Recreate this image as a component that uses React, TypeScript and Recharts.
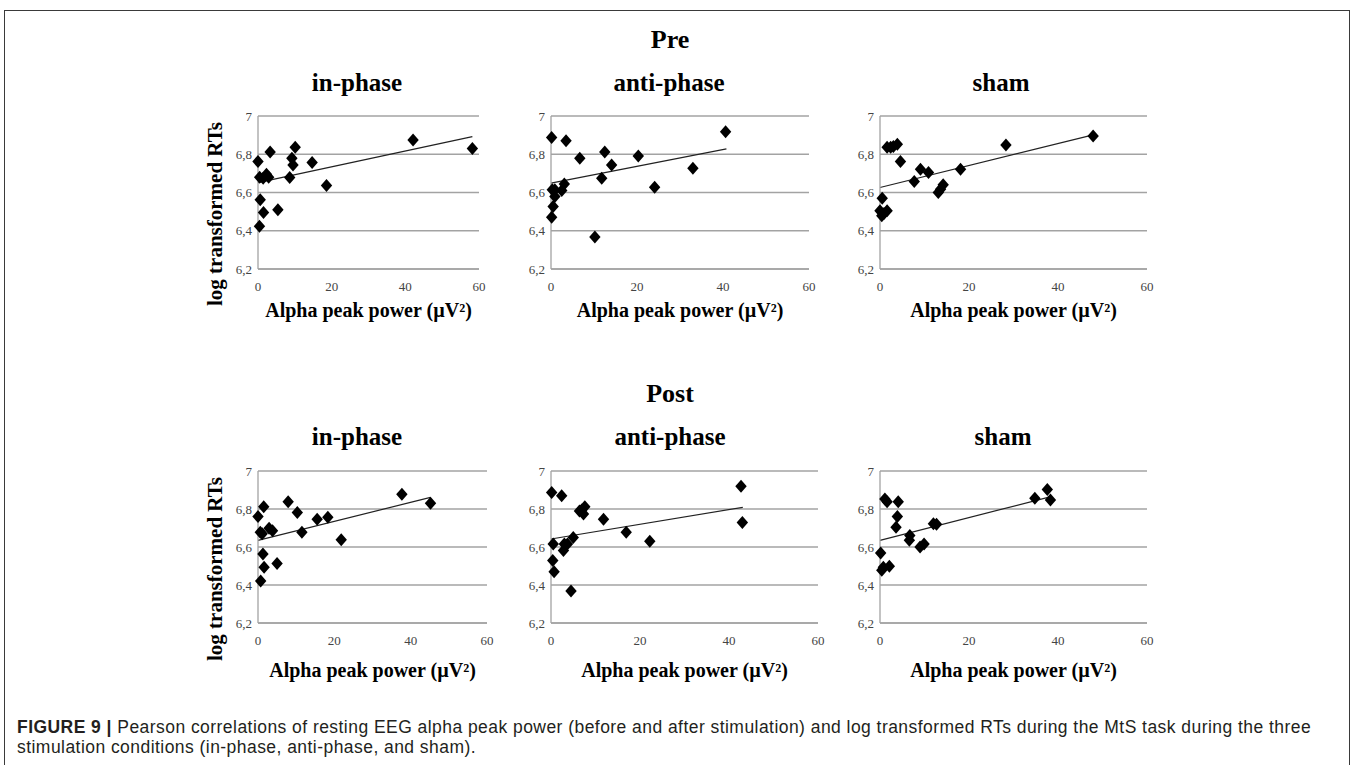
import React from 'react';
import { ScatterChart, Scatter, XAxis, YAxis, CartesianGrid, ReferenceLine } from 'recharts';

// ---- data (x: alpha peak power µV², y: log transformed RT) ----
const preInPhase = [
  { x: 0, y: 6.762 }, { x: 0.45, y: 6.68 }, { x: 1.4, y: 6.675 }, { x: 2.3, y: 6.696 },
  { x: 2.9, y: 6.68 }, { x: 3.3, y: 6.812 }, { x: 0.6, y: 6.562 }, { x: 1.5, y: 6.496 },
  { x: 0.4, y: 6.423 }, { x: 5.4, y: 6.51 }, { x: 8.6, y: 6.678 }, { x: 9.2, y: 6.779 },
  { x: 9.5, y: 6.744 }, { x: 10.1, y: 6.836 }, { x: 14.7, y: 6.757 }, { x: 18.6, y: 6.637 },
  { x: 42.1, y: 6.875 }, { x: 58.2, y: 6.83 },
];
const preAntiPhase = [
  { x: 0.15, y: 6.887 }, { x: 3.5, y: 6.87 }, { x: 6.7, y: 6.779 }, { x: 12.5, y: 6.812 },
  { x: 14.1, y: 6.744 }, { x: 20.3, y: 6.791 }, { x: 11.8, y: 6.675 }, { x: 24.1, y: 6.628 },
  { x: 33.0, y: 6.727 }, { x: 40.6, y: 6.918 }, { x: 0.3, y: 6.614 }, { x: 0.9, y: 6.614 },
  { x: 0.9, y: 6.579 }, { x: 2.5, y: 6.61 }, { x: 3.1, y: 6.645 }, { x: 0.5, y: 6.527 },
  { x: 0.15, y: 6.47 }, { x: 10.2, y: 6.367 },
];
const preSham = [
  { x: 0, y: 6.504 }, { x: 0.4, y: 6.478 }, { x: 0.5, y: 6.57 }, { x: 1.6, y: 6.504 },
  { x: 0.9, y: 6.49 }, { x: 1.6, y: 6.837 }, { x: 2.4, y: 6.837 }, { x: 3.0, y: 6.84 },
  { x: 3.9, y: 6.852 }, { x: 4.6, y: 6.762 }, { x: 7.7, y: 6.657 }, { x: 9.1, y: 6.722 },
  { x: 10.9, y: 6.704 }, { x: 13.1, y: 6.6 }, { x: 13.6, y: 6.617 }, { x: 14.2, y: 6.64 },
  { x: 18.1, y: 6.722 }, { x: 28.3, y: 6.849 }, { x: 47.9, y: 6.896 },
];
const postInPhase = [
  { x: 0, y: 6.76 }, { x: 0.6, y: 6.678 }, { x: 1.1, y: 6.67 }, { x: 1.5, y: 6.812 },
  { x: 1.3, y: 6.563 }, { x: 1.6, y: 6.494 }, { x: 0.7, y: 6.421 }, { x: 2.9, y: 6.699 },
  { x: 3.8, y: 6.685 }, { x: 5.0, y: 6.513 }, { x: 7.9, y: 6.838 }, { x: 10.3, y: 6.781 },
  { x: 11.5, y: 6.678 }, { x: 15.5, y: 6.746 }, { x: 18.3, y: 6.757 }, { x: 21.8, y: 6.638 },
  { x: 37.7, y: 6.878 }, { x: 45.2, y: 6.83 },
];
const postAntiPhase = [
  { x: 0.15, y: 6.887 }, { x: 2.4, y: 6.87 }, { x: 0.5, y: 6.616 }, { x: 0.4, y: 6.529 },
  { x: 0.7, y: 6.47 }, { x: 2.8, y: 6.581 }, { x: 3.0, y: 6.616 }, { x: 3.7, y: 6.616 },
  { x: 5.0, y: 6.65 }, { x: 4.5, y: 6.369 }, { x: 6.4, y: 6.79 }, { x: 6.9, y: 6.795 },
  { x: 7.3, y: 6.774 }, { x: 7.6, y: 6.812 }, { x: 11.8, y: 6.746 }, { x: 16.9, y: 6.677 },
  { x: 22.2, y: 6.63 }, { x: 42.7, y: 6.92 }, { x: 43.0, y: 6.729 },
];
const postSham = [
  { x: 0.15, y: 6.569 }, { x: 0.4, y: 6.477 }, { x: 0.75, y: 6.494 }, { x: 2.1, y: 6.499 },
  { x: 1.1, y: 6.852 }, { x: 1.6, y: 6.838 }, { x: 4.1, y: 6.838 }, { x: 3.9, y: 6.76 },
  { x: 3.6, y: 6.704 }, { x: 6.7, y: 6.661 }, { x: 6.6, y: 6.635 }, { x: 9.0, y: 6.6 },
  { x: 9.9, y: 6.616 }, { x: 12.0, y: 6.722 }, { x: 12.7, y: 6.72 }, { x: 34.8, y: 6.856 },
  { x: 37.6, y: 6.903 }, { x: 38.3, y: 6.847 },
];

// linear trend line end points
const preInPhaseTrend = [{ x: 0, y: 6.652 }, { x: 58.2, y: 6.892 }];
const preAntiPhaseTrend = [{ x: 0, y: 6.649 }, { x: 40.8, y: 6.828 }];
const preShamTrend = [{ x: 0, y: 6.626 }, { x: 47.9, y: 6.901 }];
const postInPhaseTrend = [{ x: 0, y: 6.635 }, { x: 45.2, y: 6.861 }];
const postAntiPhaseTrend = [{ x: 0, y: 6.642 }, { x: 43.1, y: 6.809 }];
const postShamTrend = [{ x: 0, y: 6.635 }, { x: 38.2, y: 6.864 }];

const xTicks = [0, 20, 40, 60];
const yTicks = [6.2, 6.4, 6.6, 6.8, 7];
const yTickLabels = ['6,2', '6,4', '6,6', '6,8', '7'];

const rowTitles = ['Pre', 'Post'];
const conditionTitles = ['in-phase', 'anti-phase', 'sham'];
const xAxisTitle = 'Alpha peak power (µV²)';
const yAxisTitle = 'log transformed RTs';

const SERIF = '"Liberation Serif", "Times New Roman", serif';
const SANS = '"Liberation Sans", Arial, sans-serif';
const GRID = '#a3a3a3';
const TICK = '#444';

const Diamond = (p: any) => {
  const { cx, cy } = p;
  if (cx == null || cy == null) return null;
  return (
    <path
      d={`M${cx},${cy - 6.5}L${cx + 5.7},${cy}L${cx},${cy + 6.5}L${cx - 5.7},${cy}Z`}
      fill="#000"
    />
  );
};

const YAW = 70;
const MT = 10;
const MR = 12;
const XAH = 40;

function Panel(props: {
  L: number; R: number; T: number; B: number; data: any[]; trend: any[];
  title: string; titleX: number; titleY: number; xLabelY: number; showY: boolean; yLabelY: number;
}) {
  const { L, R, T, B, data, trend, title, titleX, titleY, xLabelY, showY, yLabelY } = props;
  const w = R - L + YAW + MR;
  const h = B - T + MT + XAH;
  return (
    <>
      <div
        style={{
          position: 'absolute', left: titleX, top: titleY, transform: 'translate(-50%, -50%)',
          fontFamily: SERIF, fontWeight: 'bold', fontSize: 25, whiteSpace: 'nowrap', color: '#000',
        }}
      >
        {title}
      </div>
      <div style={{ position: 'absolute', left: L - YAW, top: T - MT }}>
        <ScatterChart width={w} height={h} margin={{ top: MT, right: MR, bottom: 0, left: 0 }}>
          <CartesianGrid horizontal vertical={false} stroke={GRID} strokeWidth={1.3} />
          <XAxis
            type="number" dataKey="x" domain={[0, 60]} ticks={xTicks} interval={0}
            tickLine={false} tickSize={0} tickMargin={13} height={XAH}
            axisLine={{ stroke: GRID, strokeWidth: 1.3 }}
            tick={{ fontFamily: SERIF, fontSize: 13, fill: TICK }}
          />
          <YAxis
            type="number" dataKey="y" domain={[6.2, 7]} ticks={yTicks} interval={0}
            tickLine={false} tickSize={0} tickMargin={6} width={YAW}
            axisLine={{ stroke: GRID, strokeWidth: 1.3 }}
            tickFormatter={(v: number) => yTickLabels[yTicks.indexOf(v)] ?? String(v)}
            tick={{ fontFamily: SERIF, fontSize: 13, fill: TICK }}
          />
          <ReferenceLine segment={trend} stroke="#222" strokeWidth={1.2} ifOverflow="visible" />
          <Scatter data={data} shape={Diamond} fill="#000" isAnimationActive={false} />
        </ScatterChart>
      </div>
      <div
        style={{
          position: 'absolute', left: (L + R) / 2, top: xLabelY, transform: 'translate(-50%, -50%)',
          fontFamily: SERIF, fontWeight: 'bold', fontSize: 20, whiteSpace: 'nowrap', color: '#000',
        }}
      >
        {xAxisTitle}
      </div>
      {showY && (
        <div
          style={{
            position: 'absolute', left: 215, top: yLabelY,
            transform: 'translate(-50%, -50%) rotate(-90deg)',
            fontFamily: SERIF, fontWeight: 'bold', fontSize: 21, whiteSpace: 'nowrap', color: '#000',
          }}
        >
          {yAxisTitle}
        </div>
      )}
    </>
  );
}

export default function App() {
  const rows = [
    {
      T: 116, B: 269, rowTitleY: 40, titleY: 83, xLabelY: 310,
      panels: [
        { L: 258, R: 479, data: preInPhase, trend: preInPhaseTrend, titleX: 357 },
        { L: 551, R: 809, data: preAntiPhase, trend: preAntiPhaseTrend, titleX: 669 },
        { L: 880, R: 1147, data: preSham, trend: preShamTrend, titleX: 1001 },
      ],
    },
    {
      T: 471, B: 623, rowTitleY: 394, titleY: 437, xLabelY: 670,
      panels: [
        { L: 258, R: 487, data: postInPhase, trend: postInPhaseTrend, titleX: 357 },
        { L: 551, R: 818, data: postAntiPhase, trend: postAntiPhaseTrend, titleX: 670 },
        { L: 880, R: 1147, data: postSham, trend: postShamTrend, titleX: 1003 },
      ],
    },
  ];
  return (
    <div
      style={{
        position: 'absolute', left: 0, top: 0, width: 1357, height: 765,
        background: '#fff', overflow: 'hidden',
      }}
    >
      <div
        style={{
          position: 'absolute', left: 4, top: 10, width: 1346, height: 780,
          border: '1px solid #3a3a3a', boxSizing: 'border-box',
        }}
      />
      {rows.map((row, ri) => (
        <React.Fragment key={ri}>
          <div
            style={{
              position: 'absolute', left: 670, top: row.rowTitleY, transform: 'translate(-50%, -50%)',
              fontFamily: SERIF, fontWeight: 'bold', fontSize: 26, color: '#000',
            }}
          >
            {rowTitles[ri]}
          </div>
          {row.panels.map((p, pi) => (
            <Panel
              key={pi}
              L={p.L} R={p.R} T={row.T} B={row.B} data={p.data} trend={p.trend}
              title={conditionTitles[pi]} titleX={p.titleX} titleY={row.titleY}
              xLabelY={row.xLabelY} showY={pi === 0} yLabelY={row.T + 98}
            />
          ))}
        </React.Fragment>
      ))}
      <div
        style={{
          position: 'absolute', left: 17, top: 717, fontFamily: SANS, fontSize: 17.5,
          letterSpacing: '0.45px', lineHeight: '20px', color: '#231f20', whiteSpace: 'nowrap',
        }}
      >
        <div>
          <b>FIGURE 9 |</b> Pearson correlations of resting EEG alpha peak power (before and after
          stimulation) and log transformed RTs during the MtS task during the three
        </div>
        <div>stimulation conditions (in-phase, anti-phase, and sham).</div>
      </div>
    </div>
  );
}
